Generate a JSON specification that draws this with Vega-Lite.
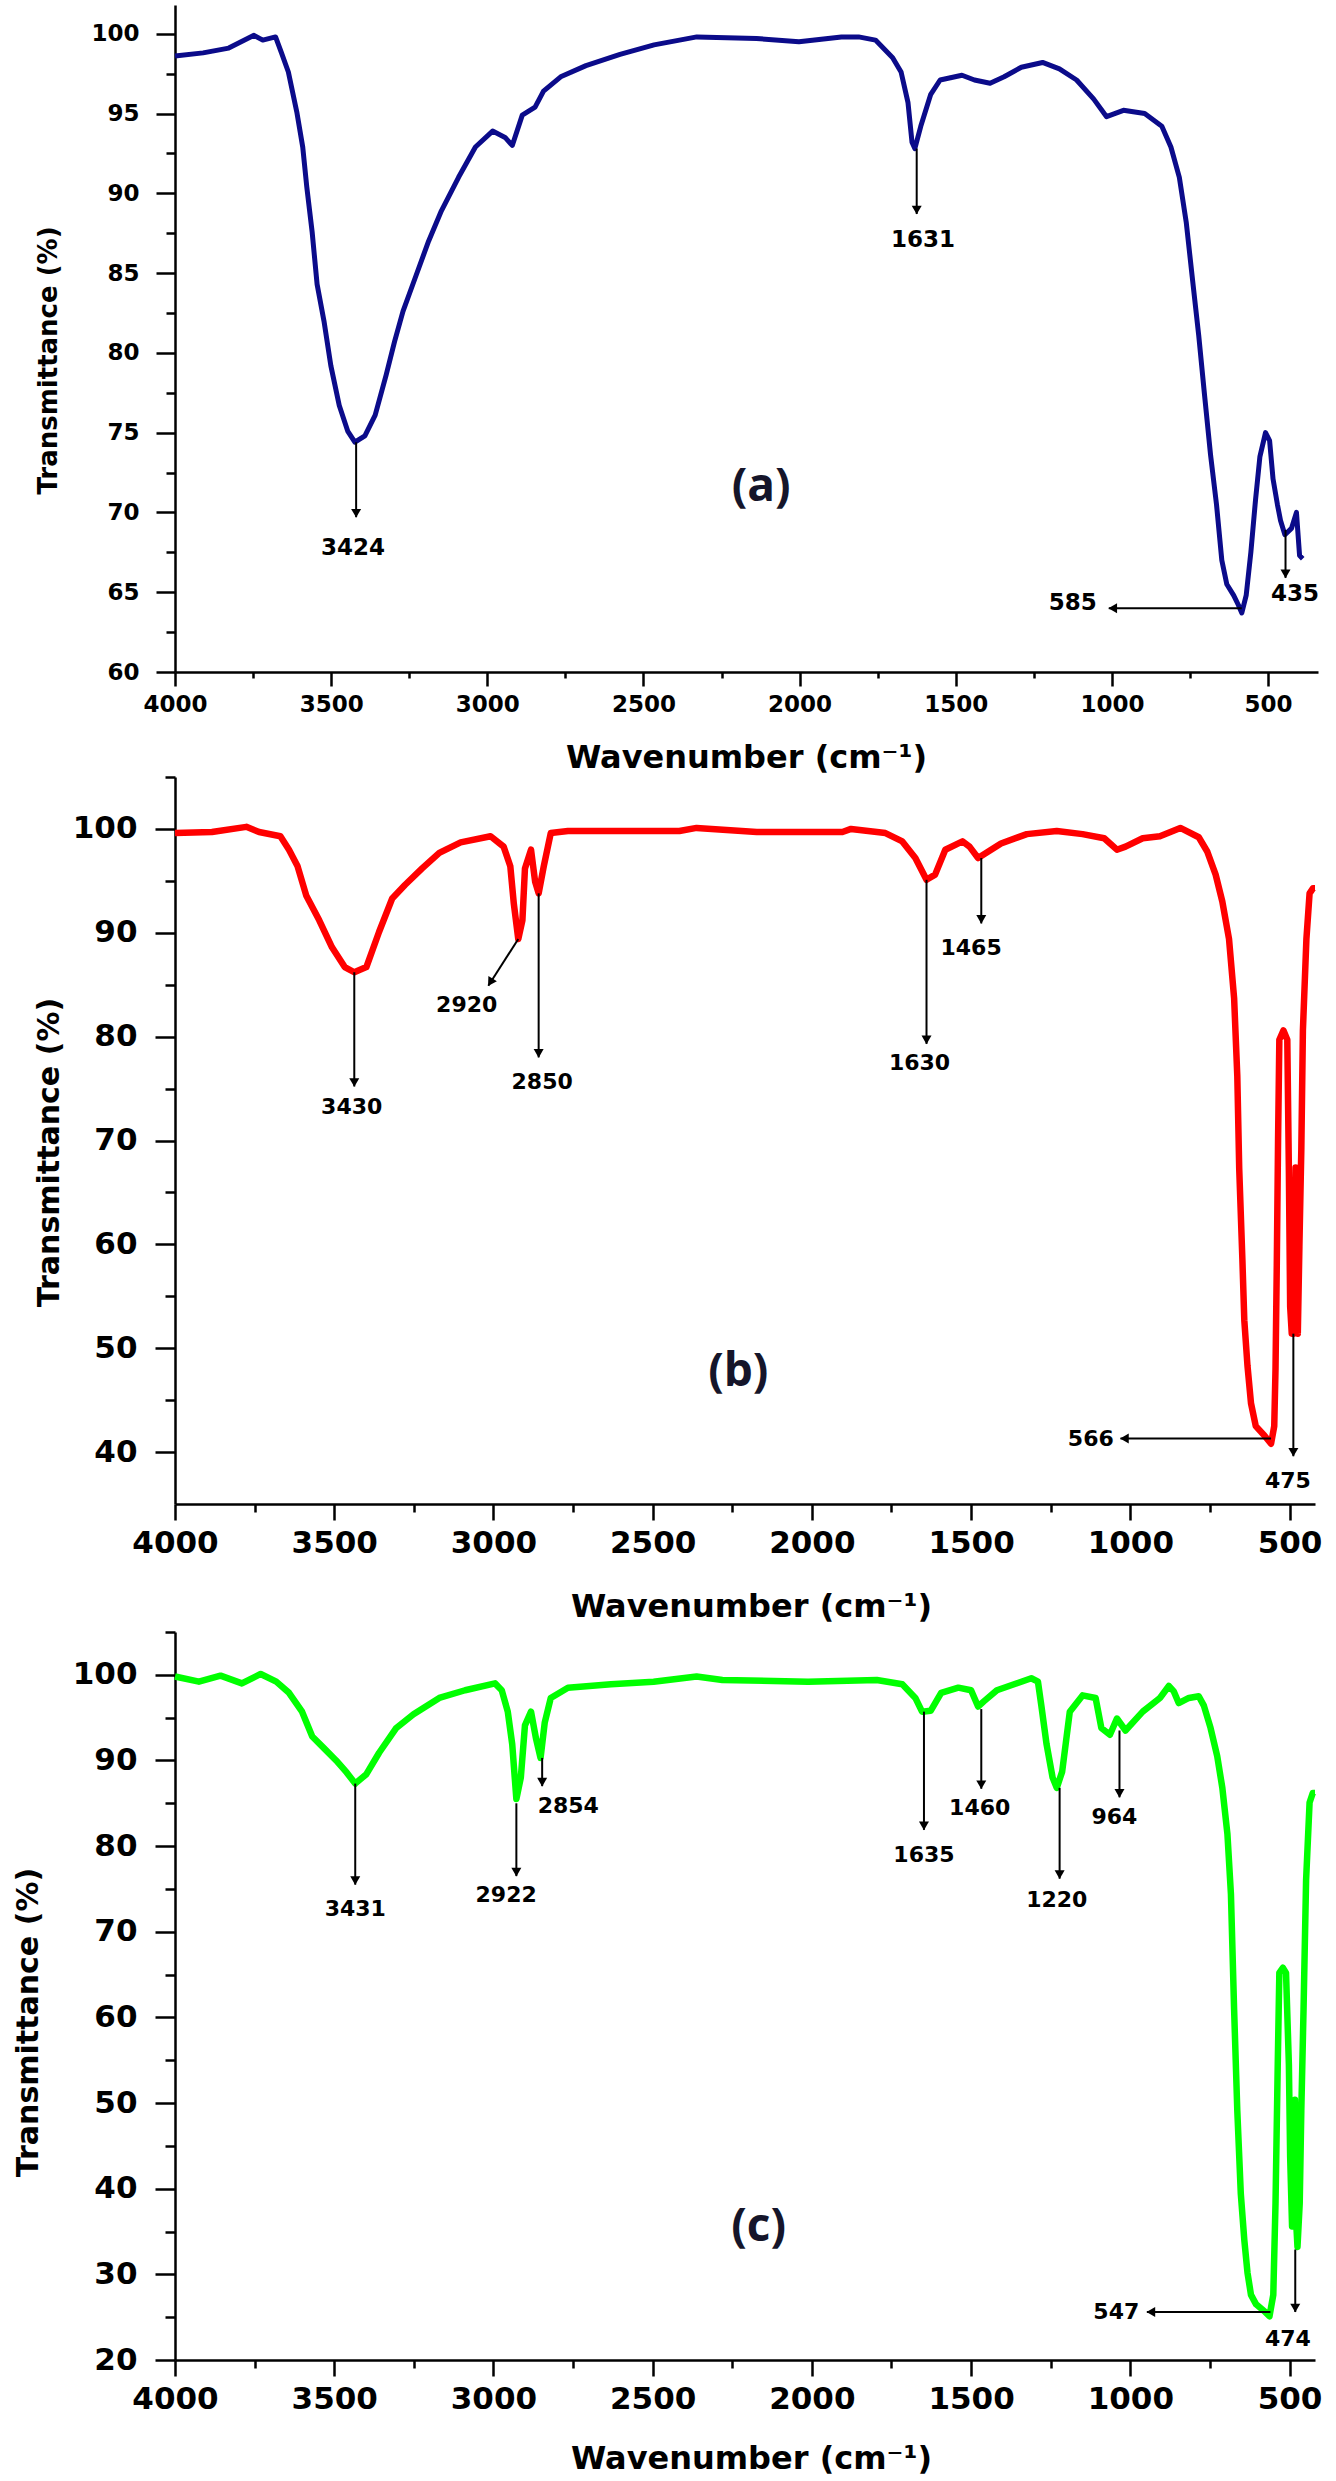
{
  "$schema": "https://vega.github.io/schema/vega-lite/v6.json",
  "background": "white",
  "padding": {"left": 13, "top": 5, "right": 5, "bottom": 5},
  "config": {
    "view": {"stroke": null},
    "axis": {
      "domainColor": "black", "tickColor": "black", "labelColor": "black", "titleColor": "black",
      "domainWidth": 2.5, "tickWidth": 2.5, "grid": false,
      "labelFont": "DejaVu Sans", "labelFontWeight": "bold",
      "titleFont": "DejaVu Sans", "titleFontWeight": "bold",
      "labelFlush": false, "labelOverlap": false
    }
  },
  "datasets": {
    "a_spec": [
      {"wn": 4000, "t": 98.6}, {"wn": 3910, "t": 98.8}, {"wn": 3828, "t": 99.1}, {"wn": 3747, "t": 99.9},
      {"wn": 3719, "t": 99.6}, {"wn": 3678, "t": 99.8}, {"wn": 3659, "t": 98.8}, {"wn": 3637, "t": 97.6},
      {"wn": 3610, "t": 95.1}, {"wn": 3591, "t": 92.9}, {"wn": 3578, "t": 90.4}, {"wn": 3561, "t": 87.6},
      {"wn": 3545, "t": 84.3}, {"wn": 3523, "t": 82.0}, {"wn": 3501, "t": 79.2}, {"wn": 3474, "t": 76.7},
      {"wn": 3447, "t": 75.1}, {"wn": 3424, "t": 74.4}, {"wn": 3392, "t": 74.8}, {"wn": 3359, "t": 76.1},
      {"wn": 3324, "t": 78.6}, {"wn": 3297, "t": 80.7}, {"wn": 3270, "t": 82.6}, {"wn": 3229, "t": 84.8},
      {"wn": 3188, "t": 87.0}, {"wn": 3147, "t": 88.9}, {"wn": 3092, "t": 91.0}, {"wn": 3038, "t": 92.9},
      {"wn": 2983, "t": 93.9}, {"wn": 2943, "t": 93.5}, {"wn": 2920, "t": 93.0}, {"wn": 2888, "t": 94.9},
      {"wn": 2847, "t": 95.4}, {"wn": 2820, "t": 96.4}, {"wn": 2765, "t": 97.3}, {"wn": 2684, "t": 98.0},
      {"wn": 2575, "t": 98.7}, {"wn": 2466, "t": 99.3}, {"wn": 2329, "t": 99.8}, {"wn": 2138, "t": 99.7},
      {"wn": 2002, "t": 99.5}, {"wn": 1866, "t": 99.8}, {"wn": 1811, "t": 99.8}, {"wn": 1757, "t": 99.6},
      {"wn": 1702, "t": 98.5}, {"wn": 1675, "t": 97.6}, {"wn": 1653, "t": 95.7}, {"wn": 1640, "t": 93.2},
      {"wn": 1631, "t": 92.8}, {"wn": 1612, "t": 94.2}, {"wn": 1580, "t": 96.2}, {"wn": 1550, "t": 97.1},
      {"wn": 1480, "t": 97.4}, {"wn": 1440, "t": 97.1}, {"wn": 1390, "t": 96.9}, {"wn": 1345, "t": 97.3},
      {"wn": 1290, "t": 97.9}, {"wn": 1222, "t": 98.2}, {"wn": 1168, "t": 97.8}, {"wn": 1113, "t": 97.1},
      {"wn": 1058, "t": 95.9}, {"wn": 1017, "t": 94.8}, {"wn": 963, "t": 95.2}, {"wn": 895, "t": 95.0},
      {"wn": 840, "t": 94.2}, {"wn": 811, "t": 92.9}, {"wn": 784, "t": 91.0}, {"wn": 762, "t": 88.2},
      {"wn": 743, "t": 84.8}, {"wn": 722, "t": 81.1}, {"wn": 703, "t": 77.3}, {"wn": 684, "t": 73.6},
      {"wn": 665, "t": 70.5}, {"wn": 648, "t": 67.0}, {"wn": 632, "t": 65.5}, {"wn": 610, "t": 64.8},
      {"wn": 595, "t": 64.2}, {"wn": 584, "t": 63.7}, {"wn": 570, "t": 64.8}, {"wn": 555, "t": 67.5},
      {"wn": 540, "t": 70.8}, {"wn": 526, "t": 73.5}, {"wn": 508, "t": 75.0}, {"wn": 495, "t": 74.5},
      {"wn": 484, "t": 72.1}, {"wn": 470, "t": 70.5}, {"wn": 460, "t": 69.5}, {"wn": 446, "t": 68.6},
      {"wn": 425, "t": 69.0}, {"wn": 409, "t": 70.0}, {"wn": 399, "t": 67.3}, {"wn": 389, "t": 67.1}
    ],
    "a_notes": [
      {"x": 3420, "y": 74.4, "x2": 3420, "y2": 69.7, "dir": "down", "label": "3424", "tx": 3430, "ty": 67.8},
      {"x": 1625, "y": 92.8, "x2": 1625, "y2": 88.7, "dir": "down", "label": "1631", "tx": 1605, "ty": 87.1},
      {"x": 584, "y": 64.0, "x2": 1010, "y2": 64.0, "dir": "left", "label": "585", "tx": 1125, "ty": 64.3},
      {"x": 444, "y": 68.9, "x2": 444, "y2": 65.9, "dir": "down", "label": "435", "tx": 414, "ty": 64.9}
    ],
    "b_spec": [
      {"wn": 4000, "t": 99.6}, {"wn": 3884, "t": 99.7}, {"wn": 3776, "t": 100.2}, {"wn": 3736, "t": 99.7},
      {"wn": 3669, "t": 99.3}, {"wn": 3642, "t": 98.0}, {"wn": 3615, "t": 96.4}, {"wn": 3588, "t": 93.6},
      {"wn": 3547, "t": 91.2}, {"wn": 3507, "t": 88.6}, {"wn": 3467, "t": 86.7}, {"wn": 3437, "t": 86.2},
      {"wn": 3399, "t": 86.7}, {"wn": 3359, "t": 90.1}, {"wn": 3318, "t": 93.3}, {"wn": 3278, "t": 94.6},
      {"wn": 3224, "t": 96.2}, {"wn": 3170, "t": 97.7}, {"wn": 3103, "t": 98.7}, {"wn": 3009, "t": 99.3},
      {"wn": 2968, "t": 98.3}, {"wn": 2947, "t": 96.4}, {"wn": 2936, "t": 92.8}, {"wn": 2922, "t": 89.4},
      {"wn": 2909, "t": 91.2}, {"wn": 2901, "t": 96.2}, {"wn": 2882, "t": 98.0}, {"wn": 2869, "t": 94.9},
      {"wn": 2858, "t": 93.8}, {"wn": 2842, "t": 96.4}, {"wn": 2820, "t": 99.6}, {"wn": 2766, "t": 99.8},
      {"wn": 2416, "t": 99.8}, {"wn": 2362, "t": 100.1}, {"wn": 2173, "t": 99.7}, {"wn": 1904, "t": 99.7},
      {"wn": 1877, "t": 100.0}, {"wn": 1769, "t": 99.6}, {"wn": 1716, "t": 98.8}, {"wn": 1675, "t": 97.2},
      {"wn": 1640, "t": 95.1}, {"wn": 1613, "t": 95.6}, {"wn": 1581, "t": 98.0}, {"wn": 1527, "t": 98.8},
      {"wn": 1505, "t": 98.3}, {"wn": 1478, "t": 97.2}, {"wn": 1452, "t": 97.7}, {"wn": 1406, "t": 98.6},
      {"wn": 1325, "t": 99.5}, {"wn": 1231, "t": 99.8}, {"wn": 1150, "t": 99.5}, {"wn": 1082, "t": 99.1},
      {"wn": 1042, "t": 98.0}, {"wn": 1015, "t": 98.3}, {"wn": 961, "t": 99.1}, {"wn": 907, "t": 99.3},
      {"wn": 843, "t": 100.1}, {"wn": 785, "t": 99.2}, {"wn": 758, "t": 97.8}, {"wn": 732, "t": 95.6},
      {"wn": 711, "t": 93.0}, {"wn": 690, "t": 89.4}, {"wn": 674, "t": 83.7}, {"wn": 664, "t": 76.2},
      {"wn": 658, "t": 67.3}, {"wn": 648, "t": 58.5}, {"wn": 642, "t": 52.7}, {"wn": 632, "t": 48.3},
      {"wn": 621, "t": 44.7}, {"wn": 606, "t": 42.5}, {"wn": 579, "t": 41.6}, {"wn": 558, "t": 40.8},
      {"wn": 548, "t": 42.5}, {"wn": 544, "t": 48.0}, {"wn": 540, "t": 58.0}, {"wn": 536, "t": 70.0},
      {"wn": 532, "t": 79.7}, {"wn": 519, "t": 80.6}, {"wn": 507, "t": 79.7}, {"wn": 502, "t": 67.0},
      {"wn": 498, "t": 54.0}, {"wn": 493, "t": 51.4}, {"wn": 488, "t": 51.4}, {"wn": 484, "t": 60.0},
      {"wn": 481, "t": 67.4}, {"wn": 478, "t": 55.0}, {"wn": 474, "t": 51.4}, {"wn": 469, "t": 59.8},
      {"wn": 463, "t": 69.1}, {"wn": 458, "t": 80.6}, {"wn": 447, "t": 89.4}, {"wn": 437, "t": 93.8},
      {"wn": 426, "t": 94.3}, {"wn": 420, "t": 94.3}
    ],
    "b_notes": [
      {"x": 3437, "y": 86.2, "x2": 3437, "y2": 75.2, "dir": "down", "label": "3430", "tx": 3445, "ty": 73.2},
      {"x": 2922, "y": 89.4, "x2": 3016, "y2": 84.9, "dir": "diag", "label": "2920", "tx": 3084, "ty": 83.0},
      {"x": 2858, "y": 93.8, "x2": 2858, "y2": 78.0, "dir": "down", "label": "2850", "tx": 2847, "ty": 75.6},
      {"x": 1640, "y": 95.1, "x2": 1640, "y2": 79.3, "dir": "down", "label": "1630", "tx": 1662, "ty": 77.5},
      {"x": 1468, "y": 97.2, "x2": 1468, "y2": 90.9, "dir": "down", "label": "1465", "tx": 1500, "ty": 88.5},
      {"x": 558, "y": 41.3, "x2": 1031, "y2": 41.3, "dir": "left", "label": "566", "tx": 1124, "ty": 41.3},
      {"x": 488, "y": 51.4, "x2": 488, "y2": 39.6, "dir": "down", "label": "475", "tx": 505, "ty": 37.2}
    ],
    "c_spec": [
      {"wn": 4000, "t": 99.8}, {"wn": 3925, "t": 99.2}, {"wn": 3857, "t": 99.9}, {"wn": 3790, "t": 99.0},
      {"wn": 3731, "t": 100.1}, {"wn": 3682, "t": 99.2}, {"wn": 3642, "t": 97.9}, {"wn": 3601, "t": 95.7},
      {"wn": 3569, "t": 92.8}, {"wn": 3534, "t": 91.5}, {"wn": 3494, "t": 90.0}, {"wn": 3461, "t": 88.6},
      {"wn": 3434, "t": 87.3}, {"wn": 3399, "t": 88.4}, {"wn": 3359, "t": 90.9}, {"wn": 3305, "t": 93.8},
      {"wn": 3251, "t": 95.4}, {"wn": 3170, "t": 97.3}, {"wn": 3089, "t": 98.2}, {"wn": 2995, "t": 99.0},
      {"wn": 2974, "t": 98.2}, {"wn": 2955, "t": 95.7}, {"wn": 2941, "t": 91.9}, {"wn": 2928, "t": 85.5},
      {"wn": 2914, "t": 88.0}, {"wn": 2901, "t": 94.1}, {"wn": 2882, "t": 95.7}, {"wn": 2866, "t": 92.5},
      {"wn": 2852, "t": 90.3}, {"wn": 2839, "t": 94.4}, {"wn": 2820, "t": 97.3}, {"wn": 2766, "t": 98.5},
      {"wn": 2631, "t": 98.9}, {"wn": 2497, "t": 99.2}, {"wn": 2362, "t": 99.8}, {"wn": 2281, "t": 99.4},
      {"wn": 2012, "t": 99.2}, {"wn": 1796, "t": 99.4}, {"wn": 1716, "t": 98.9}, {"wn": 1675, "t": 97.3},
      {"wn": 1654, "t": 95.7}, {"wn": 1627, "t": 95.8}, {"wn": 1594, "t": 97.9}, {"wn": 1540, "t": 98.5},
      {"wn": 1500, "t": 98.2}, {"wn": 1478, "t": 96.3}, {"wn": 1460, "t": 96.9}, {"wn": 1419, "t": 98.2},
      {"wn": 1365, "t": 98.9}, {"wn": 1311, "t": 99.6}, {"wn": 1290, "t": 99.2}, {"wn": 1279, "t": 96.3},
      {"wn": 1263, "t": 91.9}, {"wn": 1244, "t": 88.0}, {"wn": 1231, "t": 86.8}, {"wn": 1214, "t": 88.7},
      {"wn": 1190, "t": 95.7}, {"wn": 1150, "t": 97.6}, {"wn": 1109, "t": 97.3}, {"wn": 1091, "t": 93.8},
      {"wn": 1064, "t": 93.0}, {"wn": 1042, "t": 94.9}, {"wn": 1015, "t": 93.5}, {"wn": 961, "t": 95.7},
      {"wn": 907, "t": 97.3}, {"wn": 879, "t": 98.7}, {"wn": 864, "t": 98.1}, {"wn": 848, "t": 96.7},
      {"wn": 816, "t": 97.3}, {"wn": 785, "t": 97.5}, {"wn": 769, "t": 96.4}, {"wn": 748, "t": 93.8},
      {"wn": 727, "t": 90.5}, {"wn": 711, "t": 86.8}, {"wn": 695, "t": 81.4}, {"wn": 684, "t": 74.4},
      {"wn": 674, "t": 60.9}, {"wn": 664, "t": 49.1}, {"wn": 653, "t": 39.4}, {"wn": 642, "t": 34.0},
      {"wn": 632, "t": 30.2}, {"wn": 621, "t": 27.6}, {"wn": 605, "t": 26.5}, {"wn": 579, "t": 25.7},
      {"wn": 563, "t": 25.1}, {"wn": 551, "t": 27.6}, {"wn": 544, "t": 38.3}, {"wn": 537, "t": 54.5},
      {"wn": 532, "t": 65.2}, {"wn": 521, "t": 65.8}, {"wn": 511, "t": 65.2}, {"wn": 502, "t": 54.5},
      {"wn": 498, "t": 43.7}, {"wn": 492, "t": 35.6}, {"wn": 487, "t": 45.0}, {"wn": 483, "t": 50.4},
      {"wn": 479, "t": 36.0}, {"wn": 475, "t": 33.2}, {"wn": 468, "t": 38.3}, {"wn": 463, "t": 49.1},
      {"wn": 456, "t": 60.9}, {"wn": 448, "t": 76.0}, {"wn": 437, "t": 85.1}, {"wn": 427, "t": 86.2},
      {"wn": 420, "t": 86.2}
    ],
    "c_notes": [
      {"x": 3434, "y": 87.3, "x2": 3434, "y2": 75.5, "dir": "down", "label": "3431", "tx": 3434, "ty": 72.7},
      {"x": 2928, "y": 85.0, "x2": 2928, "y2": 76.5, "dir": "down", "label": "2922", "tx": 2960, "ty": 74.3},
      {"x": 2847, "y": 90.3, "x2": 2847, "y2": 87.0, "dir": "down", "label": "2854", "tx": 2765, "ty": 84.7},
      {"x": 1648, "y": 95.7, "x2": 1648, "y2": 81.9, "dir": "down", "label": "1635", "tx": 1648, "ty": 79.0},
      {"x": 1468, "y": 96.0, "x2": 1468, "y2": 86.7, "dir": "down", "label": "1460", "tx": 1473, "ty": 84.4},
      {"x": 1222, "y": 86.8, "x2": 1222, "y2": 76.2, "dir": "down", "label": "1220", "tx": 1231, "ty": 73.7},
      {"x": 1034, "y": 93.5, "x2": 1034, "y2": 85.7, "dir": "down", "label": "964", "tx": 1050, "ty": 83.4},
      {"x": 560, "y": 25.6, "x2": 948, "y2": 25.6, "dir": "left", "label": "547", "tx": 1044, "ty": 25.6},
      {"x": 482, "y": 32.9, "x2": 482, "y2": 25.6, "dir": "down", "label": "474", "tx": 505, "ty": 22.4}
    ],
    "tags": [
      {"panel": "a", "wn": 2123, "t": 71.6, "tag": "(a)"},
      {"panel": "b", "wn": 2231, "t": 47.7, "tag": "(b)"},
      {"panel": "c", "wn": 2167, "t": 35.5, "tag": "(c)"}
    ]
  },
  "spacing": 105,
  "bounds": "flush",
  "vconcat": [
    {
      "width": 1143,
      "height": 667,
      "resolve": {"axis": {"x": "independent", "y": "independent"}},
      "layer": [
        {
          "data": {"name": "a_spec"},
          "mark": {"type": "line", "color": "#0b0b8a", "strokeWidth": 5, "strokeJoin": "round"},
          "encoding": {
            "x": {"field": "wn", "type": "quantitative", "scale": {"domain": [4000, 340], "nice": false, "zero": false},
              "axis": {"orient": "bottom", "values": [4000, 3500, 3000, 2500, 2000, 1500, 1000, 500], "format": "d",
                "tickSize": 14, "labelFontSize": 23, "labelPadding": 7,
                "title": "Wavenumber (cm⁻¹)", "titleFontSize": 32, "titleX": 571, "titleY": 85, "titleBaseline": "middle", "titleAlign": "center"}},
            "y": {"field": "t", "type": "quantitative", "scale": {"domain": [60, 101.8], "nice": false, "zero": false},
              "axis": {"orient": "left", "values": [60, 65, 70, 75, 80, 85, 90, 95, 100], "format": "d",
                "tickSize": 19, "labelFontSize": 23, "labelPadding": 17,
                "title": "Transmittance (%)", "titleFontSize": 26, "titleAngle": 270, "titleX": -127, "titleY": 355, "titleBaseline": "middle", "titleAlign": "center"}}
          }
        },
        {
          "data": {"name": "a_notes"},
          "mark": {"type": "rule", "color": "black", "strokeWidth": 2},
          "encoding": {
            "x": {"field": "x", "type": "quantitative", "scale": {"domain": [4000, 340], "nice": false, "zero": false},
              "axis": {"orient": "bottom", "values": [3750, 3250, 2750, 2250, 1750, 1250, 750], "labels": false, "domain": false, "title": null, "tickSize": 6}},
            "x2": {"field": "x2"},
            "y": {"field": "y", "type": "quantitative", "scale": {"domain": [60, 101.8], "nice": false, "zero": false},
              "axis": {"orient": "left", "values": [62.5, 67.5, 72.5, 77.5, 82.5, 87.5, 92.5, 97.5], "labels": false, "domain": false, "title": null, "tickSize": 9}},
            "y2": {"field": "y2"}
          }
        },
        {
          "data": {"name": "a_notes"},
          "transform": [{"filter": "datum.dir == 'down'"}],
          "mark": {"type": "point", "shape": "triangle-down", "filled": true, "color": "black", "opacity": 1, "size": 100, "yOffset": -4},
          "encoding": {
            "x": {"field": "x2", "type": "quantitative", "scale": {"domain": [4000, 340], "nice": false, "zero": false}, "axis": null},
            "y": {"field": "y2", "type": "quantitative", "scale": {"domain": [60, 101.8], "nice": false, "zero": false}, "axis": null}
          }
        },
        {
          "data": {"name": "a_notes"},
          "transform": [{"filter": "datum.dir == 'left'"}],
          "mark": {"type": "point", "shape": "triangle-left", "filled": true, "color": "black", "opacity": 1, "size": 100, "xOffset": 4},
          "encoding": {
            "x": {"field": "x2", "type": "quantitative", "scale": {"domain": [4000, 340], "nice": false, "zero": false}, "axis": null},
            "y": {"field": "y2", "type": "quantitative", "scale": {"domain": [60, 101.8], "nice": false, "zero": false}, "axis": null}
          }
        },
        {
          "data": {"name": "a_notes"},
          "mark": {"type": "text", "font": "DejaVu Sans", "fontWeight": "bold", "fontSize": 23, "color": "black", "baseline": "middle", "align": "center"},
          "encoding": {
            "x": {"field": "tx", "type": "quantitative", "scale": {"domain": [4000, 340], "nice": false, "zero": false}, "axis": null},
            "y": {"field": "ty", "type": "quantitative", "scale": {"domain": [60, 101.8], "nice": false, "zero": false}, "axis": null},
            "text": {"field": "label"}
          }
        },
        {
          "data": {"name": "tags"},
          "transform": [{"filter": "datum.panel == 'a'"}],
          "mark": {"type": "text", "font": "Open Sans", "fontWeight": "bold", "fontSize": 46, "color": "#15152a", "baseline": "middle", "align": "center"},
          "encoding": {
            "x": {"field": "wn", "type": "quantitative", "scale": {"domain": [4000, 340], "nice": false, "zero": false}, "axis": null},
            "y": {"field": "t", "type": "quantitative", "scale": {"domain": [60, 101.8], "nice": false, "zero": false}, "axis": null},
            "text": {"field": "tag"}
          }
        }
      ]
    },
    {
      "spacing": 128,
      "bounds": "flush",
      "vconcat": [
        {
          "width": 1140,
          "height": 727,
          "resolve": {"axis": {"x": "independent", "y": "independent"}},
          "layer": [
            {
              "data": {"name": "b_spec"},
              "mark": {"type": "line", "color": "#ff0000", "strokeWidth": 6.5, "strokeJoin": "round"},
              "encoding": {
                "x": {"field": "wn", "type": "quantitative", "scale": {"domain": [4000, 420], "nice": false, "zero": false},
                  "axis": {"orient": "bottom", "values": [4000, 3500, 3000, 2500, 2000, 1500, 1000, 500], "format": "d",
                    "tickSize": 16, "labelFontSize": 31, "labelPadding": 8,
                    "title": "Wavenumber (cm⁻¹)", "titleFontSize": 32, "titleX": 576, "titleY": 102, "titleBaseline": "middle", "titleAlign": "center"}},
                "y": {"field": "t", "type": "quantitative", "scale": {"domain": [35, 105], "nice": false, "zero": false},
                  "axis": {"orient": "left", "values": [40, 50, 60, 70, 80, 90, 100], "format": "d",
                    "tickSize": 20, "labelFontSize": 31, "labelPadding": 18,
                    "title": "Transmittance (%)", "titleFontSize": 30, "titleAngle": 270, "titleX": -126, "titleY": 375, "titleBaseline": "middle", "titleAlign": "center"}}
              }
            },
            {
              "data": {"name": "b_notes"},
              "mark": {"type": "rule", "color": "black", "strokeWidth": 2},
              "encoding": {
                "x": {"field": "x", "type": "quantitative", "scale": {"domain": [4000, 420], "nice": false, "zero": false},
                  "axis": {"orient": "bottom", "values": [3750, 3250, 2750, 2250, 1750, 1250, 750], "labels": false, "domain": false, "title": null, "tickSize": 8}},
                "x2": {"field": "x2"},
                "y": {"field": "y", "type": "quantitative", "scale": {"domain": [35, 105], "nice": false, "zero": false},
                  "axis": {"orient": "left", "values": [45, 55, 65, 75, 85, 95, 105], "labels": false, "domain": false, "title": null, "tickSize": 10}},
                "y2": {"field": "y2"}
              }
            },
            {
              "data": {"name": "b_notes"},
              "transform": [{"filter": "datum.dir == 'down'"}],
              "mark": {"type": "point", "shape": "triangle-down", "filled": true, "color": "black", "opacity": 1, "size": 100, "yOffset": -4},
              "encoding": {
                "x": {"field": "x2", "type": "quantitative", "scale": {"domain": [4000, 420], "nice": false, "zero": false}, "axis": null},
                "y": {"field": "y2", "type": "quantitative", "scale": {"domain": [35, 105], "nice": false, "zero": false}, "axis": null}
              }
            },
            {
              "data": {"name": "b_notes"},
              "transform": [{"filter": "datum.dir == 'left'"}],
              "mark": {"type": "point", "shape": "triangle-left", "filled": true, "color": "black", "opacity": 1, "size": 100, "xOffset": 4},
              "encoding": {
                "x": {"field": "x2", "type": "quantitative", "scale": {"domain": [4000, 420], "nice": false, "zero": false}, "axis": null},
                "y": {"field": "y2", "type": "quantitative", "scale": {"domain": [35, 105], "nice": false, "zero": false}, "axis": null}
              }
            },
            {
              "data": {"name": "b_notes"},
              "transform": [{"filter": "datum.dir == 'diag'"}],
              "mark": {"type": "point", "shape": "triangle-down", "filled": true, "color": "black", "opacity": 1, "size": 100, "angle": 32, "xOffset": 2, "yOffset": -3.5},
              "encoding": {
                "x": {"field": "x2", "type": "quantitative", "scale": {"domain": [4000, 420], "nice": false, "zero": false}, "axis": null},
                "y": {"field": "y2", "type": "quantitative", "scale": {"domain": [35, 105], "nice": false, "zero": false}, "axis": null}
              }
            },
            {
              "data": {"name": "b_notes"},
              "mark": {"type": "text", "font": "DejaVu Sans", "fontWeight": "bold", "fontSize": 22, "color": "black", "baseline": "middle", "align": "center"},
              "encoding": {
                "x": {"field": "tx", "type": "quantitative", "scale": {"domain": [4000, 420], "nice": false, "zero": false}, "axis": null},
                "y": {"field": "ty", "type": "quantitative", "scale": {"domain": [35, 105], "nice": false, "zero": false}, "axis": null},
                "text": {"field": "label"}
              }
            },
            {
              "data": {"name": "tags"},
              "transform": [{"filter": "datum.panel == 'b'"}],
              "mark": {"type": "text", "font": "Open Sans", "fontWeight": "bold", "fontSize": 46, "color": "#15152a", "baseline": "middle", "align": "center"},
              "encoding": {
                "x": {"field": "wn", "type": "quantitative", "scale": {"domain": [4000, 420], "nice": false, "zero": false}, "axis": null},
                "y": {"field": "t", "type": "quantitative", "scale": {"domain": [35, 105], "nice": false, "zero": false}, "axis": null},
                "text": {"field": "tag"}
              }
            }
          ]
        },
        {
          "width": 1140,
          "height": 728,
          "resolve": {"axis": {"x": "independent", "y": "independent"}},
          "layer": [
            {
              "data": {"name": "c_spec"},
              "mark": {"type": "line", "color": "#00ff00", "strokeWidth": 6.5, "strokeJoin": "round"},
              "encoding": {
                "x": {"field": "wn", "type": "quantitative", "scale": {"domain": [4000, 420], "nice": false, "zero": false},
                  "axis": {"orient": "bottom", "values": [4000, 3500, 3000, 2500, 2000, 1500, 1000, 500], "format": "d",
                    "tickSize": 16, "labelFontSize": 31, "labelPadding": 8,
                    "title": "Wavenumber (cm⁻¹)", "titleFontSize": 32, "titleX": 576, "titleY": 98, "titleBaseline": "middle", "titleAlign": "center"}},
                "y": {"field": "t", "type": "quantitative", "scale": {"domain": [20, 105], "nice": false, "zero": false},
                  "axis": {"orient": "left", "values": [20, 30, 40, 50, 60, 70, 80, 90, 100], "format": "d",
                    "tickSize": 20, "labelFontSize": 31, "labelPadding": 18,
                    "title": "Transmittance (%)", "titleFontSize": 30, "titleAngle": 270, "titleX": -147, "titleY": 390, "titleBaseline": "middle", "titleAlign": "center"}}
              }
            },
            {
              "data": {"name": "c_notes"},
              "mark": {"type": "rule", "color": "black", "strokeWidth": 2},
              "encoding": {
                "x": {"field": "x", "type": "quantitative", "scale": {"domain": [4000, 420], "nice": false, "zero": false},
                  "axis": {"orient": "bottom", "values": [3750, 3250, 2750, 2250, 1750, 1250, 750], "labels": false, "domain": false, "title": null, "tickSize": 8}},
                "x2": {"field": "x2"},
                "y": {"field": "y", "type": "quantitative", "scale": {"domain": [20, 105], "nice": false, "zero": false},
                  "axis": {"orient": "left", "values": [25, 35, 45, 55, 65, 75, 85, 95, 105], "labels": false, "domain": false, "title": null, "tickSize": 10}},
                "y2": {"field": "y2"}
              }
            },
            {
              "data": {"name": "c_notes"},
              "transform": [{"filter": "datum.dir == 'down'"}],
              "mark": {"type": "point", "shape": "triangle-down", "filled": true, "color": "black", "opacity": 1, "size": 100, "yOffset": -4},
              "encoding": {
                "x": {"field": "x2", "type": "quantitative", "scale": {"domain": [4000, 420], "nice": false, "zero": false}, "axis": null},
                "y": {"field": "y2", "type": "quantitative", "scale": {"domain": [20, 105], "nice": false, "zero": false}, "axis": null}
              }
            },
            {
              "data": {"name": "c_notes"},
              "transform": [{"filter": "datum.dir == 'left'"}],
              "mark": {"type": "point", "shape": "triangle-left", "filled": true, "color": "black", "opacity": 1, "size": 100, "xOffset": 4},
              "encoding": {
                "x": {"field": "x2", "type": "quantitative", "scale": {"domain": [4000, 420], "nice": false, "zero": false}, "axis": null},
                "y": {"field": "y2", "type": "quantitative", "scale": {"domain": [20, 105], "nice": false, "zero": false}, "axis": null}
              }
            },
            {
              "data": {"name": "c_notes"},
              "mark": {"type": "text", "font": "DejaVu Sans", "fontWeight": "bold", "fontSize": 22, "color": "black", "baseline": "middle", "align": "center"},
              "encoding": {
                "x": {"field": "tx", "type": "quantitative", "scale": {"domain": [4000, 420], "nice": false, "zero": false}, "axis": null},
                "y": {"field": "ty", "type": "quantitative", "scale": {"domain": [20, 105], "nice": false, "zero": false}, "axis": null},
                "text": {"field": "label"}
              }
            },
            {
              "data": {"name": "tags"},
              "transform": [{"filter": "datum.panel == 'c'"}],
              "mark": {"type": "text", "font": "Open Sans", "fontWeight": "bold", "fontSize": 46, "color": "#15152a", "baseline": "middle", "align": "center"},
              "encoding": {
                "x": {"field": "wn", "type": "quantitative", "scale": {"domain": [4000, 420], "nice": false, "zero": false}, "axis": null},
                "y": {"field": "t", "type": "quantitative", "scale": {"domain": [20, 105], "nice": false, "zero": false}, "axis": null},
                "text": {"field": "tag"}
              }
            }
          ]
        }
      ]
    }
  ]
}
